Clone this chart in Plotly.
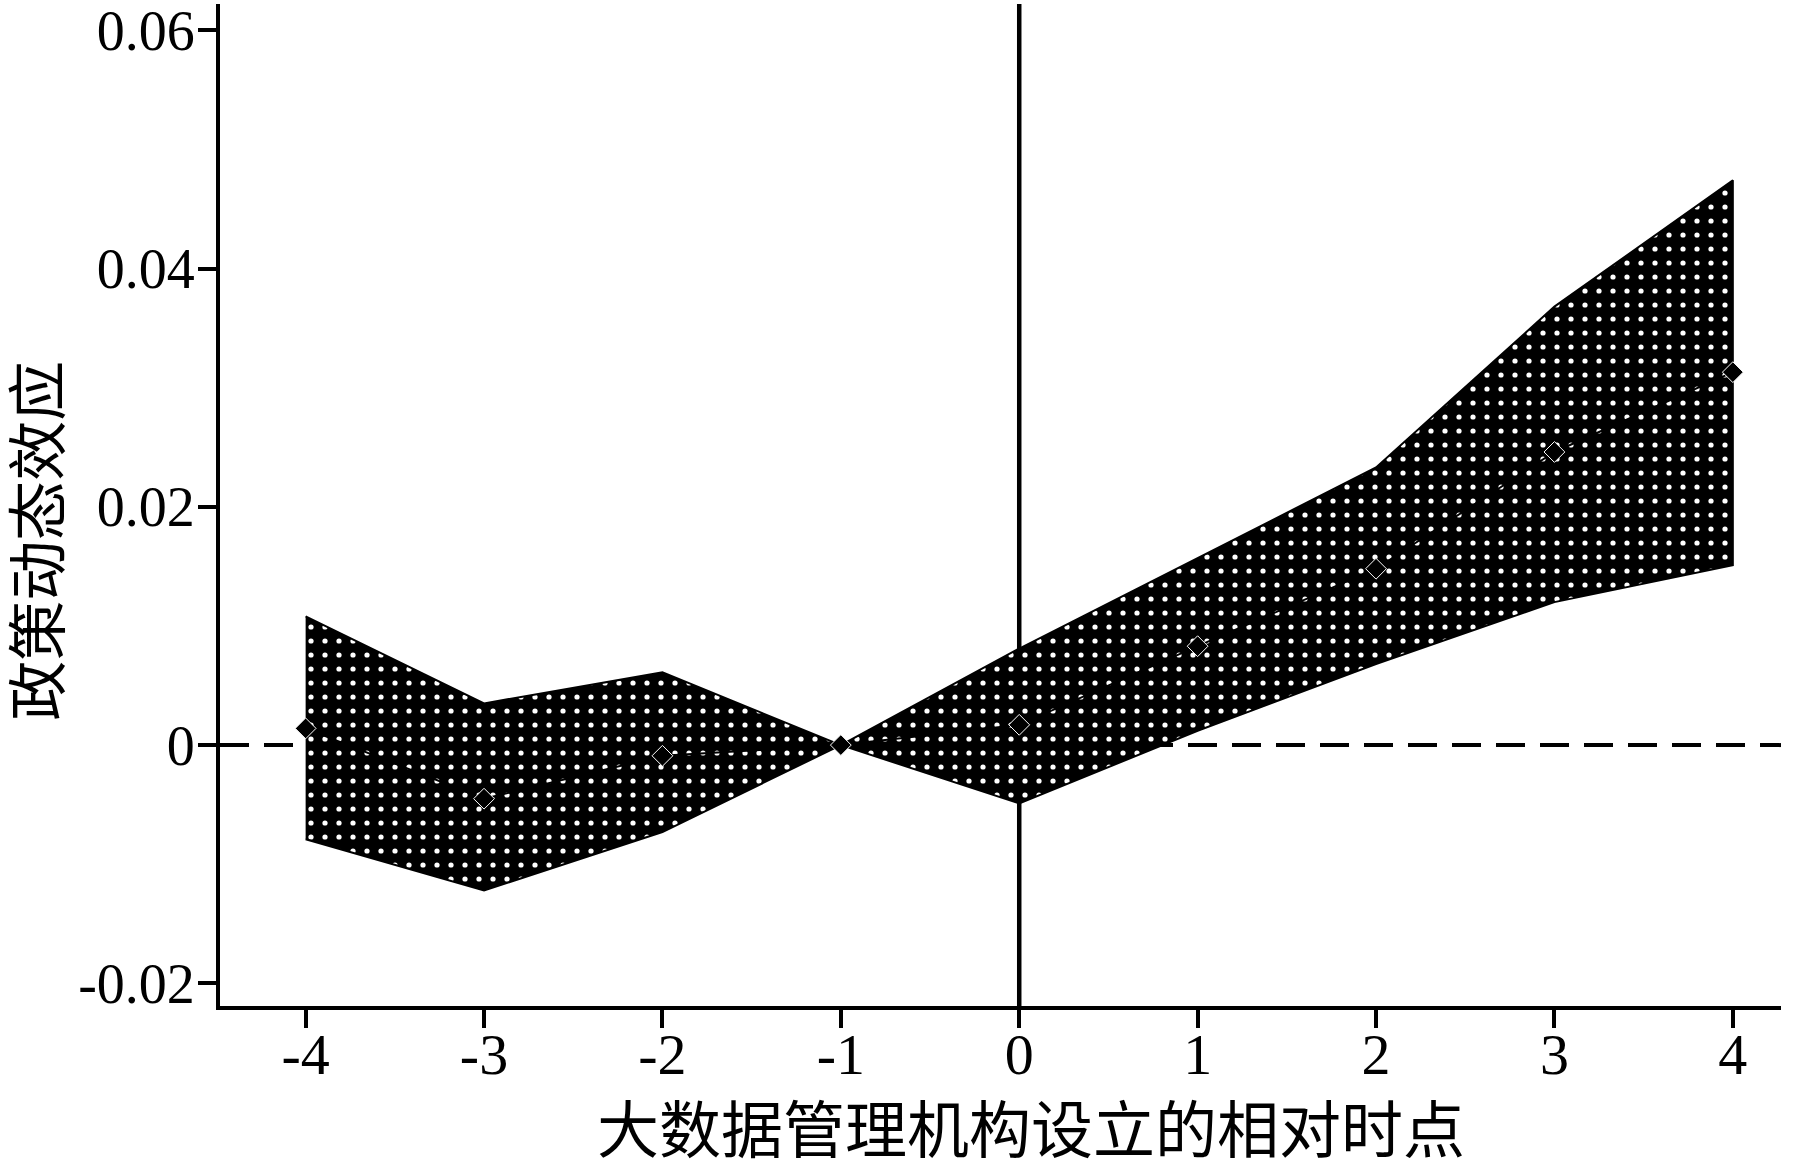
import plotly.graph_objects as go

# ---- data ----
periods = [-4, -3, -2, -1, 0, 1, 2, 3, 4]
coef = [0.0014, -0.0045, -0.0009, 0.0, 0.0017, 0.0083, 0.0148, 0.0246, 0.0313]
ci_upper = [0.0108, 0.0035, 0.0061, 0.0, 0.0081, 0.0157, 0.0233, 0.0368, 0.0474]
ci_lower = [-0.0079, -0.0122, -0.0073, 0.0, -0.0049, 0.0012, 0.0068, 0.0120, 0.0151]

x_tickvals = [-4, -3, -2, -1, 0, 1, 2, 3, 4]
x_ticktext = ["-4", "-3", "-2", "-1", "0", "1", "2", "3", "4"]
y_tickvals = [0.06, 0.04, 0.02, 0.0, -0.02]
y_ticktext = ["0.06", "0.04", "0.02", "0", "-0.02"]

x_title = "大数据管理机构设立的相对时点"
y_title = "政策动态效应"

fig = go.Figure()

# confidence band polygon
band_x = periods + periods[::-1]
band_y = ci_upper + ci_lower[::-1]
fig.add_trace(go.Scatter(
    x=band_x, y=band_y, mode="lines", fill="toself",
    fillcolor="black",
    fillpattern=dict(shape=".", bgcolor="black", fgcolor="white",
                     fgopacity=1, size=14, solidity=0.11),
    line=dict(color="black", width=2),
    hoverinfo="skip", showlegend=False,
))

# point estimates
fig.add_trace(go.Scatter(
    x=periods, y=coef, mode="lines+markers",
    line=dict(color="black", width=2),
    marker=dict(symbol="diamond", size=16, color="black",
                line=dict(color="white", width=1)),
    showlegend=False,
))

fig.update_layout(
    width=1817, height=1159,
    margin=dict(l=220, r=36, t=0, b=153),
    paper_bgcolor="white", plot_bgcolor="white",
    shapes=[
        dict(type="line", xref="paper", yref="y", x0=0, x1=1, y0=0, y1=0,
             line=dict(color="black", width=4, dash="29px,15px"), layer="below"),
        dict(type="line", xref="x", yref="paper", x0=0, x1=0, y0=0, y1=1,
             line=dict(color="black", width=4.5), layer="below"),
    ],
    annotations=[
        dict(text=x_title, xref="paper", yref="paper", x=(1031 - 220) / (1817 - 256),
             y=-0.1193, xanchor="center", yanchor="middle", showarrow=False,
             font=dict(family="Noto Sans CJK SC", size=62, color="black")),
        dict(text=y_title, xref="paper", yref="paper", x=(34 - 220) / (1817 - 256),
             y=1 - 539 / 1006, xanchor="center", yanchor="middle", showarrow=False,
             textangle=-90,
             font=dict(family="Noto Sans CJK SC", size=60, color="black")),
    ],
)

fig.update_xaxes(
    range=[-4.48, 4.27], tickvals=x_tickvals, ticktext=x_ticktext,
    showline=True, linecolor="black", linewidth=4,
    ticks="outside", ticklen=18, tickwidth=4, tickcolor="black",
    showgrid=False, zeroline=False, ticklabelstandoff=-24,
    ticklabeloverflow="allow",
    tickfont=dict(family="Liberation Serif", size=58, color="black"),
)
fig.update_yaxes(
    range=[-0.0219, 0.0622], tickvals=y_tickvals, ticktext=y_ticktext,
    showline=True, linecolor="black", linewidth=4,
    ticks="outside", ticklen=18, tickwidth=4, tickcolor="black",
    showgrid=False, zeroline=False, ticklabelstandoff=-8,
    ticklabeloverflow="allow",
    tickfont=dict(family="Liberation Serif", size=56, color="black"),
)

fig.write_html("out.html", config={"displayModeBar": False},
               post_script="document.body.style.margin='0px';document.body.style.padding='0px';")
